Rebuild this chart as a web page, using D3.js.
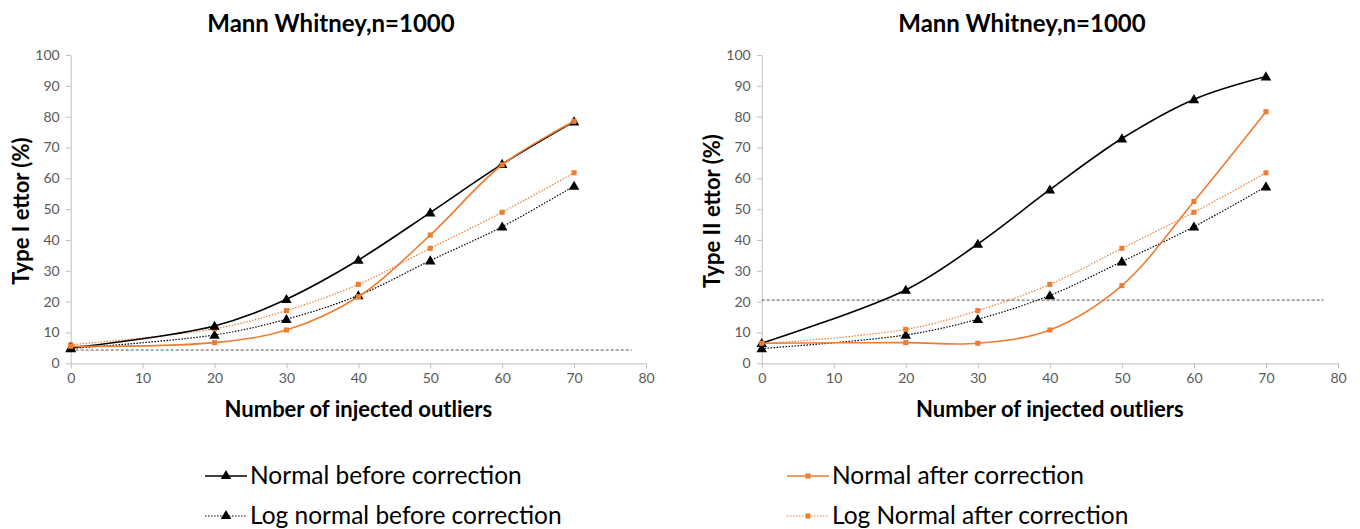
<!DOCTYPE html>
<html><head><meta charset="utf-8">
<script src="https://cdn.jsdelivr.net/npm/d3@7"></script>
<style>body{margin:0;background:#fff;} svg{display:block;font-family:Lato, "Open Sans", sans-serif;}</style>
</head><body>
<svg id="c" width="1360" height="529"></svg>
<script>
const xValues = [0, 20, 30, 40, 50, 60, 70];
const xTicks = [0, 10, 20, 30, 40, 50, 60, 70, 80];
const yTicks = [0, 10, 20, 30, 40, 50, 60, 70, 80, 90, 100];
const titles = ["Mann Whitney,n=1000", "Mann Whitney,n=1000"];
const yTitles = ["Type I ettor (%)", "Type II ettor (%)"];
const xTitle = "Number of injected outliers";
const seriesNames = ["Normal before correction", "Log normal before correction", "Normal after correction", "Log Normal after correction"];
// Type I
const t1NormalBefore = [5, 12.1, 20.8, 33.5, 48.9, 64.6, 78.4];
const t1LogBefore = [4.8, 9.2, 14.3, 22.0, 33.3, 44.3, 57.5];
const t1NormalAfter = [5.5, 6.7, 10.8, 21.6, 41.6, 64.4, 78.5];
const t1LogAfter = [6.0, 11.2, 17.1, 25.6, 37.3, 49.0, 61.8];
const t1RefLine = 4.3;
// Type II
const t2NormalBefore = [6.5, 23.8, 38.7, 56.3, 72.9, 85.6, 93.0];
const t2LogBefore = [4.8, 9.2, 14.3, 22.0, 33.0, 44.3, 57.3];
const t2NormalAfter = [6.5, 6.7, 6.5, 10.8, 25.2, 52.5, 81.6];
const t2LogAfter = [6.3, 11.0, 17.1, 25.6, 37.3, 49.0, 61.8];
const t2RefLine = 20.5;

const BLACK = "#000", ORANGE = "#ED7D31";
const styles = [
  {color: BLACK, dash: null, marker: "tri", width: 1.6},
  {color: BLACK, dash: "1.5,1.5", marker: "tri", width: 1.2},
  {color: ORANGE, dash: null, marker: "sq", width: 1.6},
  {color: ORANGE, dash: "1.5,1.5", marker: "sq", width: 1.2}
];

const svg = d3.select("#c");
const charts = [
  {x0: 70.7, x1: 646, cx: 331, ytx: 22, data: [t1NormalBefore, t1LogBefore, t1NormalAfter, t1LogAfter], ref: t1RefLine},
  {x0: 761.7, x1: 1338, cx: 1022, ytx: 713, data: [t2NormalBefore, t2LogBefore, t2NormalAfter, t2LogAfter], ref: t2RefLine}
];
const triangle = d3.symbol().type(d3.symbolTriangle).size(48);
const square = d3.symbol().type(d3.symbolSquare).size(26);

charts.forEach((c, ci) => {
  const x = d3.scaleLinear().domain([0, 80]).range([c.x0, c.x1]);
  const y = d3.scaleLinear().domain([0, 100]).range([363.3, 55]);
  const g = svg.append("g");
  const xa = g.append("g").attr("transform", `translate(0,${y(0)})`)
    .call(d3.axisBottom(x).tickValues(xTicks).tickSize(5).tickSizeOuter(0).tickPadding(5));
  const ya = g.append("g").attr("transform", `translate(${x(0)},0)`)
    .call(d3.axisLeft(y).tickValues(yTicks).tickSize(5).tickSizeOuter(0).tickPadding(6));
  [xa, ya].forEach(a => {
    a.select(".domain").attr("stroke", "#BFBFBF").attr("stroke-width", 1);
    a.selectAll(".tick line").attr("stroke", "#BFBFBF");
    a.selectAll(".tick text").attr("fill", "#595959").style("font-size", "14px").style("font-family", "Lato, sans-serif");
  });
  g.append("line").attr("x1", x(0)).attr("x2", x(78)).attr("y1", y(c.ref)).attr("y2", y(c.ref))
    .attr("stroke", "#555").attr("stroke-width", 1).attr("stroke-dasharray", "3,2");
  const line = d3.line().x((d, i) => x(xValues[i])).y(d => y(d)).curve(d3.curveCatmullRom.alpha(0.5));
  [1, 3, 0, 2].forEach(si => {
    const st = styles[si];
    g.append("path").datum(c.data[si]).attr("d", line).attr("fill", "none")
      .attr("stroke", st.color).attr("stroke-width", st.width)
      .attr("stroke-dasharray", st.dash);
    g.selectAll(null).data(c.data[si]).enter().append("path")
      .attr("d", st.marker === "tri" ? triangle : square)
      .attr("transform", (d, i) => `translate(${x(xValues[i])},${y(d) + (st.marker === "tri" ? 0.8 : 0)})`)
      .attr("fill", st.color);
  });
  g.append("text").attr("x", c.cx).attr("y", 32).attr("text-anchor", "middle")
    .style("font-size", "24px").style("font-weight", "bold").attr("fill", "#000").text(titles[ci]);
  g.append("text").attr("x", (c.x0 + c.x1) / 2).attr("y", 417).attr("text-anchor", "middle")
    .style("font-size", "22px").style("font-weight", "bold").attr("fill", "#000").text(xTitle);
  g.append("text").attr("transform", `translate(${c.ytx + 7},${y(50) + 2}) rotate(-90)`).attr("text-anchor", "middle")
    .style("font-size", "22px").style("font-weight", "bold").attr("fill", "#000").text(yTitles[ci]);
});

const legendPos = [
  {x: 205, y: 476, si: 0}, {x: 205, y: 516, si: 1},
  {x: 787, y: 476, si: 2}, {x: 787, y: 516, si: 3}
];
legendPos.forEach(p => {
  const st = styles[p.si];
  const lg = svg.append("g");
  lg.append("line").attr("x1", p.x).attr("x2", p.x + 42).attr("y1", p.y).attr("y2", p.y)
    .attr("stroke", st.color).attr("stroke-width", st.width).attr("stroke-dasharray", st.dash);
  lg.append("path").attr("d", st.marker === "tri" ? triangle : square)
    .attr("transform", `translate(${p.x + 21},${p.y})`).attr("fill", st.color);
  lg.append("text").attr("x", p.x + 45).attr("y", p.y + 8).style("font-size", "24.5px")
    .attr("fill", "#000").text(seriesNames[p.si]);
});
</script>
</body></html>
